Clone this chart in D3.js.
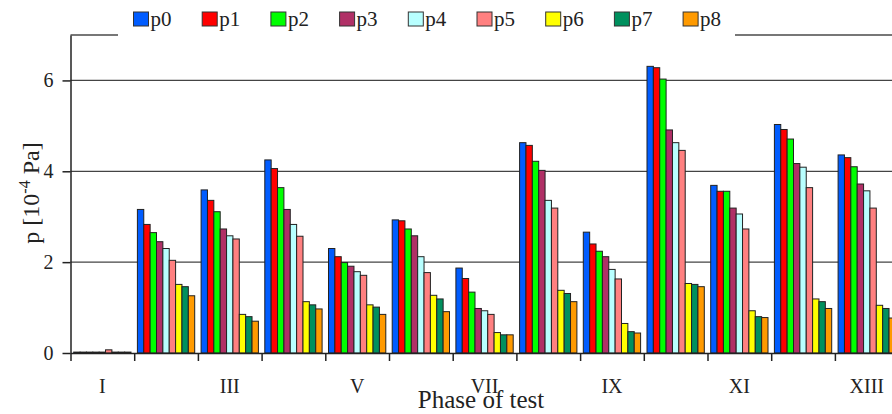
<!DOCTYPE html>
<html>
<head>
<meta charset="utf-8">
<script src="https://cdn.jsdelivr.net/npm/d3@7"></script>
<style>
  body { margin: 0; background: #fff; }
  svg { display: block; }
  svg text { font-family: "Liberation Serif", "Times New Roman", "DejaVu Serif", serif; }
</style>
</head>
<body>
<svg width="892" height="414"></svg>
<script>
// Phases (categories) and shown tick labels
const phases = ["I", "II", "III", "IV", "V", "VI", "VII", "VIII", "IX", "X", "XI", "XII", "XIII"];
const shownLabels = ["I", "III", "V", "VII", "IX", "XI", "XIII"];
const seriesNames = ["p0", "p1", "p2", "p3", "p4", "p5", "p6", "p7", "p8"];
const seriesColors = ["#005cff", "#ff0000", "#00ff00", "#b03066", "#b8ffff", "#ff8080", "#ffff00", "#00905e", "#ff9a00"];
const yTicks = [0, 2, 4, 6];

// values, one array per series (10^-4 Pa)
const p0 = [0.02, 3.16, 3.59, 4.25, 2.30, 2.93, 1.87, 4.63, 2.66, 6.31, 3.69, 5.03, 4.36];
const p1 = [0.02, 2.83, 3.36, 4.06, 2.12, 2.91, 1.64, 4.57, 2.40, 6.28, 3.56, 4.92, 4.30];
const p2 = [0.02, 2.65, 3.11, 3.64, 1.99, 2.73, 1.34, 4.22, 2.24, 6.03, 3.56, 4.71, 4.10];
const p3 = [0.02, 2.45, 2.73, 3.16, 1.91, 2.58, 0.98, 4.02, 2.12, 4.91, 3.19, 4.17, 3.72];
const p4 = [0.02, 2.30, 2.58, 2.83, 1.79, 2.12, 0.93, 3.36, 1.84, 4.63, 3.06, 4.09, 3.57];
const p5 = [0.07, 2.04, 2.51, 2.57, 1.71, 1.77, 0.85, 3.19, 1.63, 4.46, 2.73, 3.64, 3.19];
const p6 = [0.02, 1.51, 0.85, 1.13, 1.06, 1.27, 0.45, 1.38, 0.65, 1.53, 0.93, 1.19, 1.05];
const p7 = [0.02, 1.46, 0.80, 1.06, 1.01, 1.19, 0.40, 1.31, 0.47, 1.51, 0.80, 1.13, 0.98];
const p8 = [0.02, 1.26, 0.70, 0.97, 0.85, 0.91, 0.40, 1.13, 0.44, 1.46, 0.78, 0.98, 0.77];
const seriesValues = [p0, p1, p2, p3, p4, p5, p6, p7, p8];

const serif = "Liberation Serif, Times New Roman, serif";
const svg = d3.select("svg");

const plotLeft = 70.5, plotTop = 35, plotBottom = 353, step = 63.7;

// scales
const x0 = d3.scaleBand().domain(phases).range([plotLeft, plotLeft + step * phases.length]).padding(0);
const x1 = d3.scaleBand().domain(seriesNames).range([3.2, x0.bandwidth() - 3.2]).padding(0);
const xEdge = d3.scaleLinear().domain([0, phases.length]).range(x0.range());
const y = d3.scaleLinear().domain([0, 7]).range([plotBottom, plotTop]);

// gridlines
svg.append("g")
  .selectAll("line")
  .data(yTicks.filter((d) => d > 0))
  .enter()
  .append("line")
  .attr("x1", plotLeft)
  .attr("x2", 892)
  .attr("y1", (d) => y(d))
  .attr("y2", (d) => y(d))
  .attr("stroke", "#444")
  .attr("stroke-width", 1.3);

// top frame pieces (legend sits in the gap)
svg.append("line").attr("x1", plotLeft).attr("x2", 118).attr("y1", plotTop).attr("y2", plotTop)
  .attr("stroke", "#777").attr("stroke-width", 2);
svg.append("line").attr("x1", 735).attr("x2", 892).attr("y1", plotTop).attr("y2", plotTop)
  .attr("stroke", "#777").attr("stroke-width", 2);

// bars
const groups = svg.append("g")
  .selectAll("g")
  .data(phases)
  .enter()
  .append("g")
  .attr("transform", (d) => "translate(" + x0(d) + ",0)");

groups.selectAll("rect")
  .data((d, i) => seriesNames.map((s, j) => ({ s: s, v: seriesValues[j][i], c: seriesColors[j] })))
  .enter()
  .append("rect")
  .attr("x", (d) => x1(d.s))
  .attr("y", (d) => y(d.v))
  .attr("width", x1.bandwidth())
  .attr("height", (d) => y(0) - y(d.v))
  .attr("fill", (d) => d.c)
  .attr("stroke", "#222")
  .attr("stroke-width", 1);

// x axis with boundary ticks
const xAxis = svg.append("g")
  .attr("transform", "translate(0," + plotBottom + ")")
  .call(d3.axisBottom(xEdge).tickValues(d3.range(0, phases.length + 1)).tickSize(8).tickSizeOuter(0).tickFormat(""));
xAxis.select(".domain").attr("stroke", "#222").attr("stroke-width", 1.5);
xAxis.selectAll(".tick line").attr("stroke", "#222").attr("stroke-width", 1.5);

svg.append("g")
  .selectAll("text")
  .data(shownLabels)
  .enter()
  .append("text")
  .attr("x", (d) => x0(d) + x0.bandwidth() / 2)
  .attr("y", 393)
  .attr("text-anchor", "middle")
  .attr("font-family", serif)
  .attr("font-size", 20)
  .attr("fill", "#222")
  .text((d) => d);

// y axis
const yAxis = svg.append("g")
  .attr("transform", "translate(" + plotLeft + ",0)")
  .call(d3.axisLeft(y).tickValues(yTicks).tickFormat(d3.format("d")).tickSize(8).tickPadding(9).tickSizeOuter(0))
  .attr("font-family", serif)
  .attr("font-size", 20);
yAxis.select(".domain").attr("stroke", "#222").attr("stroke-width", 1.5);
yAxis.selectAll(".tick line").attr("stroke", "#222").attr("stroke-width", 1.5);
yAxis.selectAll("text").attr("fill", "#222");

// axis titles
svg.append("text")
  .attr("x", 481)
  .attr("y", 408)
  .attr("text-anchor", "middle")
  .attr("font-family", serif)
  .attr("font-size", 25)
  .attr("fill", "#222")
  .text("Phase of test");

const yTitle = svg.append("text")
  .attr("transform", "translate(39,193) rotate(-90)")
  .attr("text-anchor", "middle")
  .attr("font-family", serif)
  .attr("font-size", 24)
  .attr("fill", "#222");
yTitle.append("tspan").text("p [10");
yTitle.append("tspan").attr("dy", -9).attr("font-size", 16).text("-4");
yTitle.append("tspan").attr("dy", 9).text(" Pa]");

// legend
const legend = svg.append("g")
  .selectAll("g")
  .data(seriesNames)
  .enter()
  .append("g")
  .attr("transform", (d, i) => "translate(" + (133.5 + i * 68.7) + ",12)");

legend.append("rect")
  .attr("width", 15)
  .attr("height", 14)
  .attr("fill", (d, i) => seriesColors[i])
  .attr("stroke", "#333")
  .attr("stroke-width", 1);

legend.append("text")
  .attr("x", 17)
  .attr("y", 14)
  .attr("font-family", serif)
  .attr("font-size", 21)
  .attr("fill", "#222")
  .text((d) => d);
</script>
</body>
</html>
